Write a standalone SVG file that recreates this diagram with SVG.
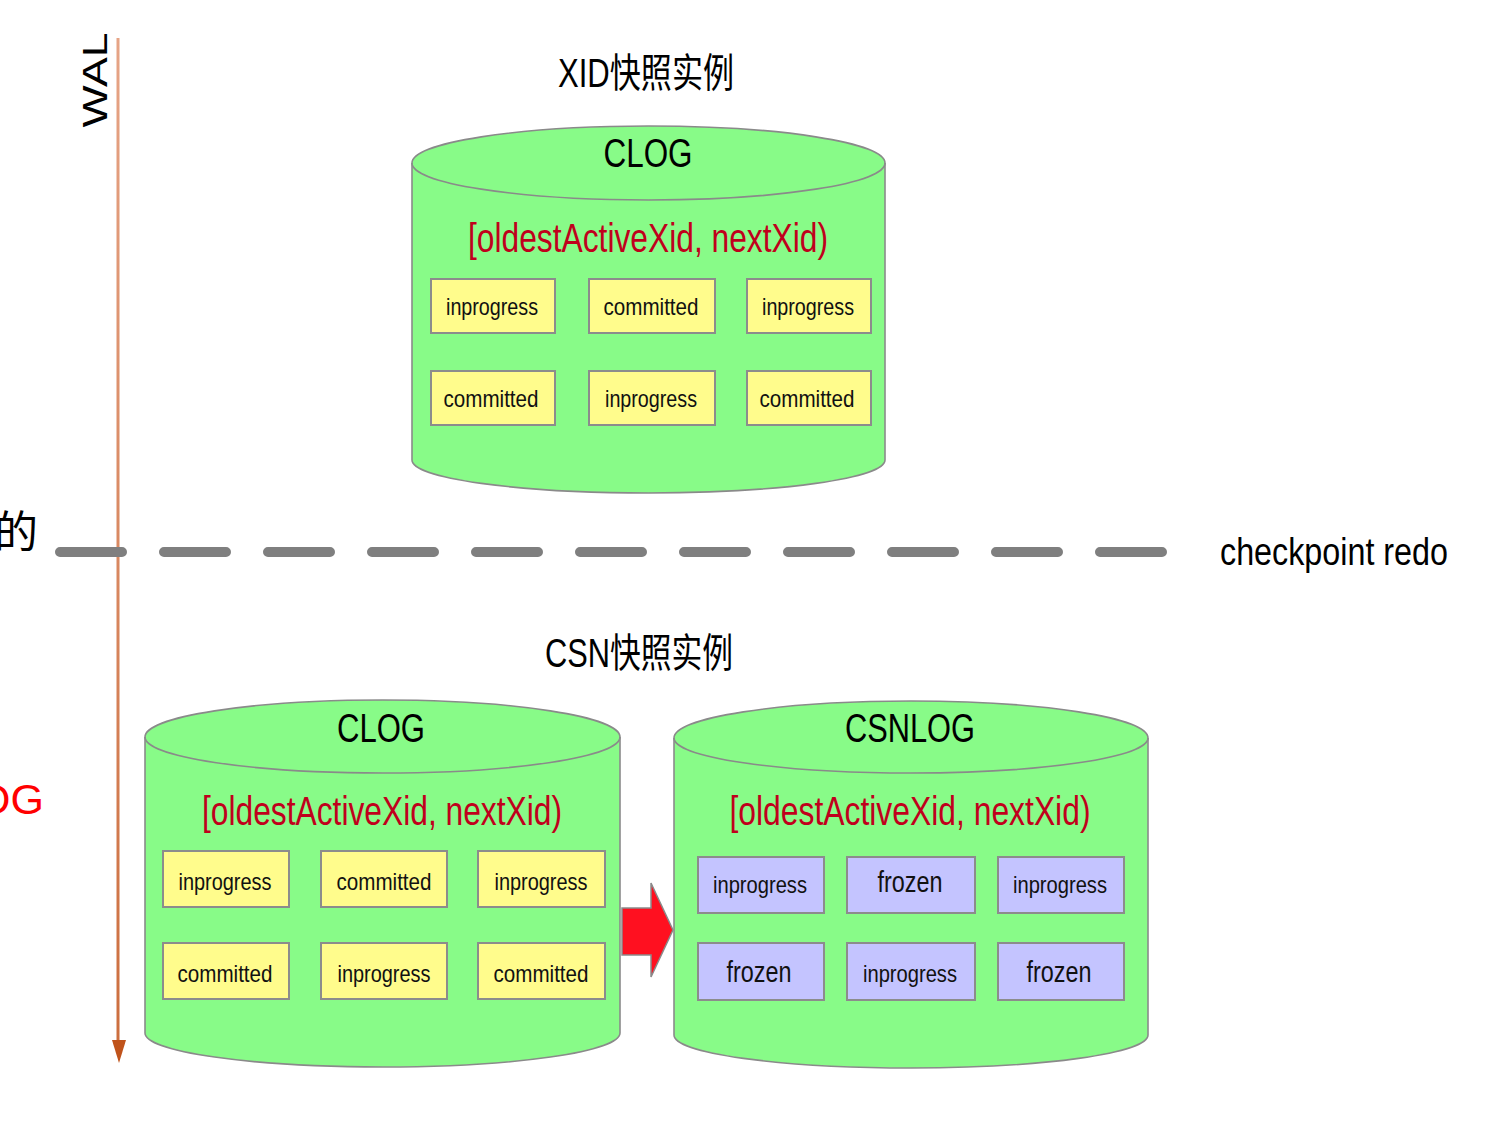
<svg xmlns="http://www.w3.org/2000/svg" width="1495" height="1125" viewBox="0 0 1495 1125">
<style>
text{font-family:"Liberation Sans","Noto Sans CJK SC",sans-serif;}
.cyl{fill:#88fb88;stroke:#8a8a8a;stroke-width:1.6;}
.ybox{fill:#fffc8c;stroke:#8c8c8c;stroke-width:2;}
.pbox{fill:#c4c4ff;stroke:#8c8c8c;stroke-width:2;}
.cell{font-size:24px;fill:#111;text-anchor:middle;}
.frz{font-size:30px;fill:#111;text-anchor:middle;}
.head{font-size:40px;fill:#000;text-anchor:middle;}
.range{font-size:40px;fill:#c0001c;text-anchor:middle;}
.title{font-size:40px;fill:#000;text-anchor:middle;}
</style>
<defs>
<linearGradient id="walg" gradientUnits="userSpaceOnUse" x1="118" y1="38" x2="118" y2="1044">
<stop offset="0" stop-color="#e6a486"/>
<stop offset="1" stop-color="#cc6e3e"/>
</linearGradient>
</defs>
<rect width="1495" height="1125" fill="#ffffff"/>

<g id="connectors">
<line x1="118" y1="38" x2="118" y2="1044" stroke="url(#walg)" stroke-width="3"/>
<polygon points="112,1040 126,1040 119,1063" fill="#c0531b"/>
<line x1="60" y1="552" x2="1162" y2="552" stroke="#7f7f7f" stroke-width="10" stroke-linecap="round" stroke-dasharray="62 42"/>
<polygon points="622,908 651,908 651,883 673,930 651,977 651,955 622,955" fill="#ff1020" stroke="#8a8a8a" stroke-width="1.5"/>
</g>

<g id="labels">
<text x="0" y="0" transform="translate(107,80) rotate(-90)" font-size="35" text-anchor="middle" textLength="95" lengthAdjust="spacingAndGlyphs">WAL</text>
<text x="38" y="548" font-size="44" text-anchor="end" fill="#000">的</text>
<text x="44" y="814" font-size="43" text-anchor="end" fill="#ff0000">OG</text>
<text x="1334" y="565" font-size="39" text-anchor="middle" textLength="228" lengthAdjust="spacingAndGlyphs" fill="#000">checkpoint redo</text>
<text class="title" x="646" y="87" textLength="176" lengthAdjust="spacingAndGlyphs">XID快照实例</text>
<text class="title" x="639" y="667" textLength="188" lengthAdjust="spacingAndGlyphs">CSN快照实例</text>
</g>

<g id="xid-clog">
<path class="cyl" d="M412,163 A236.5,37 0 0 1 885,163 L885,460 A236.5,33 0 0 1 412,460 Z"/>
<path d="M412,163 A236.5,37 0 0 0 885,163" fill="none" stroke="#8a8a8a" stroke-width="1.6"/>
<text class="head" x="648" y="167" textLength="89" lengthAdjust="spacingAndGlyphs">CLOG</text>
<text class="range" x="648" y="252" textLength="360" lengthAdjust="spacingAndGlyphs">[oldestActiveXid, nextXid)</text>
<rect class="ybox" x="431" y="279" width="124" height="54"/>
<rect class="ybox" x="589" y="279" width="126" height="54"/>
<rect class="ybox" x="747" y="279" width="124" height="54"/>
<rect class="ybox" x="431" y="371" width="124" height="54"/>
<rect class="ybox" x="589" y="371" width="126" height="54"/>
<rect class="ybox" x="747" y="371" width="124" height="54"/>
<text class="cell" x="492" y="315" textLength="92" lengthAdjust="spacingAndGlyphs">inprogress</text>
<text class="cell" x="651" y="315" textLength="95" lengthAdjust="spacingAndGlyphs">committed</text>
<text class="cell" x="808" y="315" textLength="92" lengthAdjust="spacingAndGlyphs">inprogress</text>
<text class="cell" x="491" y="407" textLength="95" lengthAdjust="spacingAndGlyphs">committed</text>
<text class="cell" x="651" y="407" textLength="92" lengthAdjust="spacingAndGlyphs">inprogress</text>
<text class="cell" x="807" y="407" textLength="95" lengthAdjust="spacingAndGlyphs">committed</text>
</g>

<g id="csn-clog">
<path class="cyl" d="M145,737 A237.5,37 0 0 1 620,737 L620,1033 A237.5,34 0 0 1 145,1033 Z"/>
<path d="M145,737 A237.5,36 0 0 0 620,737" fill="none" stroke="#8a8a8a" stroke-width="1.6"/>
<text class="head" x="381" y="742" textLength="88" lengthAdjust="spacingAndGlyphs">CLOG</text>
<text class="range" x="382" y="825" textLength="360" lengthAdjust="spacingAndGlyphs">[oldestActiveXid, nextXid)</text>
<rect class="ybox" x="163" y="851" width="126" height="56"/>
<rect class="ybox" x="321" y="851" width="126" height="56"/>
<rect class="ybox" x="478" y="851" width="127" height="56"/>
<rect class="ybox" x="163" y="943" width="126" height="56"/>
<rect class="ybox" x="321" y="943" width="126" height="56"/>
<rect class="ybox" x="478" y="943" width="127" height="56"/>
<text class="cell" x="225" y="890" textLength="93" lengthAdjust="spacingAndGlyphs">inprogress</text>
<text class="cell" x="384" y="890" textLength="95" lengthAdjust="spacingAndGlyphs">committed</text>
<text class="cell" x="541" y="890" textLength="93" lengthAdjust="spacingAndGlyphs">inprogress</text>
<text class="cell" x="225" y="982" textLength="95" lengthAdjust="spacingAndGlyphs">committed</text>
<text class="cell" x="384" y="982" textLength="93" lengthAdjust="spacingAndGlyphs">inprogress</text>
<text class="cell" x="541" y="982" textLength="95" lengthAdjust="spacingAndGlyphs">committed</text>
</g>

<g id="csn-csnlog">
<path class="cyl" d="M674,738 A237,37 0 0 1 1148,738 L1148,1035 A237,33 0 0 1 674,1035 Z"/>
<path d="M674,738 A237,35 0 0 0 1148,738" fill="none" stroke="#8a8a8a" stroke-width="1.6"/>
<text class="head" x="910" y="742" textLength="130" lengthAdjust="spacingAndGlyphs">CSNLOG</text>
<text class="range" x="910" y="825" textLength="361" lengthAdjust="spacingAndGlyphs">[oldestActiveXid, nextXid)</text>
<rect class="pbox" x="698" y="857" width="126" height="56"/>
<rect class="pbox" x="847" y="857" width="128" height="56"/>
<rect class="pbox" x="998" y="857" width="126" height="56"/>
<rect class="pbox" x="698" y="943" width="126" height="57"/>
<rect class="pbox" x="847" y="943" width="128" height="57"/>
<rect class="pbox" x="998" y="943" width="126" height="57"/>
<text class="cell" x="760" y="893" textLength="94" lengthAdjust="spacingAndGlyphs">inprogress</text>
<text class="frz" x="910" y="892" textLength="65" lengthAdjust="spacingAndGlyphs">frozen</text>
<text class="cell" x="1060" y="893" textLength="94" lengthAdjust="spacingAndGlyphs">inprogress</text>
<text class="frz" x="759" y="982" textLength="65" lengthAdjust="spacingAndGlyphs">frozen</text>
<text class="cell" x="910" y="982" textLength="94" lengthAdjust="spacingAndGlyphs">inprogress</text>
<text class="frz" x="1059" y="982" textLength="65" lengthAdjust="spacingAndGlyphs">frozen</text>
</g>
</svg>
